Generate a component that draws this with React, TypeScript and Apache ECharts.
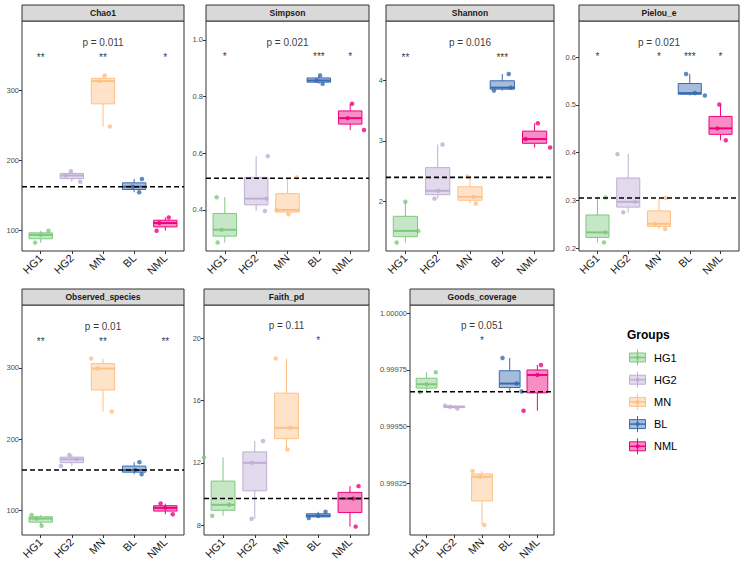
import React, { useEffect, useRef } from 'react';
import * as echarts from 'echarts';

// ---------- data ----------
const groups = ['HG1', 'HG2', 'MN', 'BL', 'NML'];
const groupColors = ['#7FC97F', '#BEAED4', '#FDC086', '#386CB0', '#F0027F'];
const panelNames = ['Chao1', 'Simpson', 'Shannon', 'Pielou_e', 'Observed_species', 'Faith_pd', 'Goods_coverage'];

// sample values per group (HG1, HG2, MN, BL, NML)
const chao1 = [[82, 93, 99], [169, 178, 184], [248, 313, 321], [154, 162, 173], [99, 110, 118]];
const simpson = [[0.285, 0.33, 0.445], [0.396, 0.44, 0.59], [0.385, 0.4, 0.515], [0.845, 0.857, 0.875], [0.682, 0.724, 0.775]];
const shannon = [[1.33, 1.52, 2.0], [2.05, 2.18, 2.94], [1.97, 2.08, 2.41], [3.825, 3.875, 4.1], [2.89, 3.03, 3.29]];
const pielou = [[0.212, 0.233, 0.306], [0.275, 0.297, 0.397], [0.24, 0.251, 0.305], [0.52, 0.525, 0.565], [0.426, 0.451, 0.501]];
const observed = [[79, 89, 94], [162.5, 172, 178], [239, 299, 313], [151, 157, 168], [95, 104, 110]];
const faith = [[8.6, 9.3, 12.35], [8.4, 12.0, 13.4], [12.85, 14.25, 18.7], [8.45, 8.6, 8.85], [7.9, 9.7, 10.5]];
const goods = [[0.999653, 0.999687, 0.99974], [0.99958, 0.999588, 0.999592], [0.999066, 0.999279, 0.999304], [0.999655, 0.99969, 0.999803], [0.99957, 0.999728, 0.999772]];

// horizontal jitter of each sample (category units)
const chao1Jitter = [[-0.18, 0.0, 0.25], [0.27, -0.2, -0.03], [0.22, -0.12, 0.06], [0.16, -0.05, 0.25], [-0.28, -0.19, 0.11]];
const simpsonJitter = [[-0.23, -0.1, -0.26], [0.28, 0.33, 0.37], [0.03, -0.35, 0.29], [0.12, -0.07, 0.04], [0.44, -0.08, 0.06]];
const shannonJitter = [[-0.27, 0.4, 0.0], [-0.1, 0.02, 0.15], [0.18, 0.1, -0.08], [-0.26, 0.26, 0.2], [0.48, -0.28, 0.1]];
const pielouJitter = [[0.21, 0.25, 0.27], [-0.16, 0.22, -0.35], [0.2, -0.13, 0.22], [0.49, 0.17, -0.12], [0.17, -0.1, -0.04]];
const observedJitter = [[0.03, -0.13, -0.29], [-0.35, 0.15, -0.08], [0.28, -0.17, -0.38], [0.24, 0.03, 0.17], [0.24, 0.0, -0.15]];
const faithJitter = [[-0.34, 0.19, -0.6], [-0.1, -0.1, 0.26], [0.03, 0.13, -0.34], [-0.3, 0.0, 0.23], [0.18, 0.1, 0.27]];
const goodsJitter = [[-0.24, 0.0, 0.33], [0.11, -0.15, -0.33], [0.08, -0.07, -0.34], [0.43, 0.25, -0.26], [-0.5, 0.0, 0.13]];

const refLine = [162, 0.512, 2.4, 0.305, 157, 9.71, 0.999654];
const pValues = ['0.011', '0.021', '0.016', '0.021', '0.01', '0.11', '0.051'];
const pLabelY = [368, 0.992, 4.62, 0.631, 358, 20.8, 0.999944];
const stars = [
  ['**', '', '**', '', '*'],
  ['*', '', '', '***', '*'],
  ['**', '', '', '***', ''],
  ['*', '', '*', '***', '*'],
  ['**', '', '**', '', '**'],
  ['', '', '', '*', ''],
  ['', '', '*', '', ''],
];
const starY = [350, 0.947, 4.41, 0.605, 340, 19.96, 0.999887];

const yMin = [70, 0.255, 1.19, 0.194, 66, 7.36, 0.999022];
const yMax = [399, 1.067, 4.97, 0.676, 388, 22.14, 1.0000366];
const yTicks = [
  [100, 200, 300],
  [0.4, 0.6, 0.8, 1.0],
  [2, 3, 4],
  [0.2, 0.3, 0.4, 0.5, 0.6],
  [100, 200, 300],
  [8, 12, 16, 20],
  [0.99925, 0.9995, 0.99975, 1.0],
];
const yDecimals = [0, 1, 0, 1, 0, 0, 5];
const xRange = [-0.6, 4.6];

const samples = [chao1, simpson, shannon, pielou, observed, faith, goods];
const jitters = [chao1Jitter, simpsonJitter, shannonJitter, pielouJitter, observedJitter, faithJitter, goodsJitter];

// ---------- layout ----------
const panelRects = [
  [22, 21, 162, 230],
  [206, 21, 163, 230],
  [386, 21, 168, 230],
  [579, 21, 160, 230],
  [22, 305, 162, 230],
  [204, 305, 165, 230],
  [410, 305, 144, 230],
];
const FONT = '"Liberation Sans", Arial, Helvetica, sans-serif';

function quantile(sorted: number[], p: number) {
  const h = (sorted.length - 1) * p;
  const lo = Math.floor(h);
  const hi = Math.ceil(h);
  return sorted[lo] + (h - lo) * (sorted[hi] - sorted[lo]);
}

function hexToRgba(hex: string, a: number) {
  const r = parseInt(hex.slice(1, 3), 16);
  const g = parseInt(hex.slice(3, 5), 16);
  const b = parseInt(hex.slice(5, 7), 16);
  return `rgba(${r},${g},${b},${a})`;
}

function buildOption() {
  const grid: any[] = [];
  const xAxis: any[] = [];
  const yAxis: any[] = [];
  const series: any[] = [];
  const graphic: any[] = [];
  const idx = [0, 1, 2, 3, 4];

  samples.forEach((panel, i) => {
    const [l, t, w, h] = panelRects[i];
    grid.push({ left: l, top: t, width: w, height: h, show: true, borderColor: '#333333', borderWidth: 1, backgroundColor: '#ffffff' });
    xAxis.push({
      type: 'value', gridIndex: i, min: xRange[0], max: xRange[1],
      axisLine: { show: false, onZero: false }, splitLine: { show: false },
      axisTick: { show: true, customValues: idx, length: 3, lineStyle: { color: '#333333' } },
      axisLabel: { customValues: idx, formatter: (v: number) => groups[Math.round(v)], rotate: 45, fontSize: 11, color: '#1a1a1a', margin: 5, fontFamily: FONT },
    });
    yAxis.push({
      type: 'value', gridIndex: i, min: yMin[i], max: yMax[i],
      axisLine: { show: false, onZero: false }, splitLine: { show: false },
      axisTick: { show: true, customValues: yTicks[i], length: 3, lineStyle: { color: '#333333' } },
      axisLabel: { customValues: yTicks[i], formatter: (v: number) => v.toFixed(yDecimals[i]), fontSize: 7.5, color: '#4d4d4d', margin: 3, fontFamily: FONT },
    });

    const boxData = panel.map((vals, gi) => {
      const s = [...vals].sort((a, b) => a - b);
      return [gi, s[0], quantile(s, 0.25), quantile(s, 0.5), quantile(s, 0.75), s[s.length - 1]];
    });

    series.push({
      type: 'custom', xAxisIndex: i, yAxisIndex: i, z: 2,
      encode: { x: 0, y: [1, 2, 3, 4, 5] },
      data: boxData,
      renderItem: (params: any, api: any) => {
        const gi = api.value(0);
        const color = groupColors[gi];
        const pLo = api.coord([gi, api.value(1)]);
        const pQ1 = api.coord([gi, api.value(2)]);
        const pMed = api.coord([gi, api.value(3)]);
        const pQ3 = api.coord([gi, api.value(4)]);
        const pHi = api.coord([gi, api.value(5)]);
        const half = api.size([0.75, 0])[0] / 2;
        const cx = pMed[0];
        return {
          type: 'group',
          children: [
            { type: 'line', shape: { x1: cx, y1: pHi[1], x2: cx, y2: pQ3[1] }, style: { stroke: color, lineWidth: 1 } },
            { type: 'line', shape: { x1: cx, y1: pQ1[1], x2: cx, y2: pLo[1] }, style: { stroke: color, lineWidth: 1 } },
            { type: 'rect', shape: { x: cx - half, y: pQ3[1], width: half * 2, height: Math.max(pQ1[1] - pQ3[1], 0.5) }, style: { fill: hexToRgba(color, 0.45), stroke: color, lineWidth: 1 } },
            { type: 'line', shape: { x1: cx - half, y1: pMed[1], x2: cx + half, y2: pMed[1] }, style: { stroke: color, lineWidth: 2 } },
          ],
        };
      },
    });

    const pts: any[] = [];
    panel.forEach((vals, gi) => {
      vals.forEach((v, k) => {
        pts.push({ value: [gi + jitters[i][gi][k], v], itemStyle: { color: groupColors[gi] } });
      });
    });
    series.push({
      type: 'scatter', xAxisIndex: i, yAxisIndex: i, z: 3, symbolSize: 4.5,
      data: pts, silent: true,
    });

    // dashed reference line
    series.push({
      type: 'line', xAxisIndex: i, yAxisIndex: i, z: 4, silent: true,
      symbol: 'none', showSymbol: false,
      lineStyle: { type: [5, 3], color: '#000000', width: 1.6 },
      data: [[xRange[0], refLine[i]], [xRange[1], refLine[i]]],
    });

    const starData = stars[i]
      .map((s, gi) => ({ value: [gi, starY[i]], label: { formatter: s, color: '#000000' } }))
      .filter((d, gi) => stars[i][gi] !== '');
    series.push({
      type: 'scatter', xAxisIndex: i, yAxisIndex: i, z: 5, symbolSize: 1, silent: true,
      itemStyle: { color: 'transparent' },
      label: { show: true, position: 'inside', fontSize: 10, color: '#000000', offset: [0, 2], fontFamily: FONT },
      data: starData,
    });
    series.push({
      type: 'scatter', xAxisIndex: i, yAxisIndex: i, z: 5, symbolSize: 1, silent: true,
      itemStyle: { color: 'transparent' },
      label: { show: true, position: 'inside', fontSize: 10, color: '#000000', fontFamily: FONT, formatter: 'p = ' + pValues[i] },
      data: [[2, pLabelY[i]]],
    });

    // strip header
    graphic.push({
      type: 'rect', shape: { x: l, y: t - 16, width: w, height: 16 },
      style: { fill: '#D9D9D9', stroke: '#333333', lineWidth: 1 }, z: 10,
    });
    graphic.push({
      type: 'text', x: l + w / 2, y: t - 8, z: 11,
      style: { text: panelNames[i], fill: '#1a1a1a', font: `bold 8.5px ${FONT}`, align: 'center', verticalAlign: 'middle', textAlign: 'center', textVerticalAlign: 'middle' },
    });
  });

  // legend
  graphic.push({
    type: 'text', x: 627, y: 335,
    style: { text: 'Groups', fill: '#000', font: `bold 12px ${FONT}`, align: 'left', verticalAlign: 'middle', textAlign: 'left', textVerticalAlign: 'middle' },
  });
  groups.forEach((g, gi) => {
    const cy = 357.5 + gi * 22.2;
    const color = groupColors[gi];
    graphic.push({ type: 'line', shape: { x1: 637.5, y1: cy - 8, x2: 637.5, y2: cy + 8 }, style: { stroke: color, lineWidth: 1 } });
    graphic.push({ type: 'rect', shape: { x: 629.5, y: cy - 4.5, width: 16, height: 9 }, style: { fill: hexToRgba(color, 0.45), stroke: color, lineWidth: 1 } });
    graphic.push({ type: 'line', shape: { x1: 629.5, y1: cy, x2: 645.5, y2: cy }, style: { stroke: color, lineWidth: 1.5 } });
    graphic.push({ type: 'circle', shape: { cx: 637.5, cy, r: 2 }, style: { fill: color } });
    graphic.push({
      type: 'text', x: 654, y: cy,
      style: { text: g, fill: '#000', font: `11px ${FONT}`, align: 'left', verticalAlign: 'middle', textAlign: 'left', textVerticalAlign: 'middle' },
    });
  });

  return {
    animation: false,
    backgroundColor: '#ffffff',
    textStyle: { fontFamily: FONT },
    grid, xAxis, yAxis, series, graphic,
  };
}

export default function App() {
  const ref = useRef<HTMLDivElement>(null);
  useEffect(() => {
    if (!ref.current) return;
    const chart = echarts.init(ref.current, undefined, { renderer: 'svg' });
    chart.setOption(buildOption() as any);
    return () => chart.dispose();
  }, []);
  return <div ref={ref} style={{ position: 'fixed', left: 0, top: 0, width: 748, height: 569, background: '#fff' }} />;
}
